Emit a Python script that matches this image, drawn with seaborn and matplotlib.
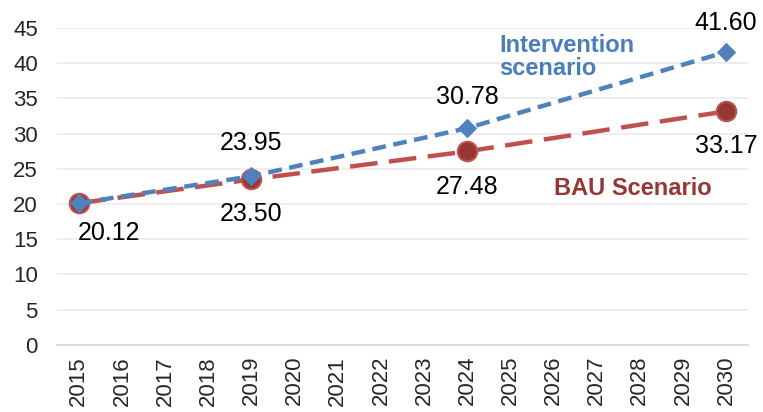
import pandas as pd
import matplotlib.pyplot as plt
import seaborn as sns

# values
years = list(range(2015, 2031))
point_years = [2015, 2019, 2024, 2030]
intervention = [20.12, 23.95, 30.78, 41.60]
bau = [20.12, 23.50, 27.48, 33.17]

sns.set_style("white")
plt.rcParams['font.family'] = ['Liberation Sans', 'DejaVu Sans']

df = pd.DataFrame({'year': point_years, 'Intervention': intervention, 'BAU': bau})

fig = plt.figure(figsize=(7.63, 4.12), dpi=100)
ax = fig.add_axes([0.075, 0.163, 0.905, 0.769])

# BAU scenario - long red dashes, dark circles
sns.lineplot(x='year', y='BAU', data=df, ax=ax, color='#C0504D', linewidth=3.2,
             marker='o', markersize=14, markerfacecolor='#953735',
             markeredgecolor='#C0504D', markeredgewidth=1.5, zorder=3)
ax.lines[-1].set_dashes([6.2, 2.6])

# Intervention scenario - short blue dashes, diamonds
sns.lineplot(x='year', y='Intervention', data=df, ax=ax, color='#4F81BD', linewidth=3.2,
             marker='D', markersize=9, markerfacecolor='#4F81BD',
             markeredgecolor='#4F81BD', zorder=4)
ax.lines[-1].set_dashes([3.1, 1.7])

# data labels (offsets in pixels from the point)
bau_offsets = [(30, -30), (0, -35), (0, -36), (0, -35)]
int_offsets = [None, (0, 33), (0, 31), (0, 29)]
for yr, v, off in zip(point_years, bau, bau_offsets):
    ax.annotate(f'{v:.2f}', (yr, v), xytext=off, textcoords='offset pixels',
                ha='center', va='center', fontsize=18, color='black')
for yr, v, off in zip(point_years, intervention, int_offsets):
    if off is None:
        continue
    ax.annotate(f'{v:.2f}', (yr, v), xytext=off, textcoords='offset pixels',
                ha='center', va='center', fontsize=18, color='black')

# series names
ax.text(0.64, 0.98, 'Intervention\nscenario', transform=ax.transAxes, fontsize=17,
        fontweight='bold', color='#4A7EBB', ha='left', va='top', linespacing=1.0)
ax.text(0.72, 0.495, 'BAU Scenario', transform=ax.transAxes, fontsize=17,
        fontweight='bold', color='#953735', ha='left', va='center')

ax.set_xlim(2014.5, 2030.5)
ax.set_ylim(0, 45)
ax.set_xticks(years)
ax.set_xticklabels([str(y) for y in years], rotation=90)
ax.set_yticks(range(0, 50, 5))
ax.tick_params(axis='both', labelsize=16, length=0)
ax.tick_params(axis='y', pad=14)
ax.tick_params(axis='x', pad=8)
ax.grid(axis='y', color='#EDEDED', linewidth=1.3)
ax.set_axisbelow(True)
for s in ['top', 'right', 'left']:
    ax.spines[s].set_visible(False)
ax.spines['bottom'].set_color('#D9D9D9')
ax.spines['bottom'].set_linewidth(1.3)
ax.set_xlabel('')
ax.set_ylabel('')

plt.savefig('out.png', dpi=100)
